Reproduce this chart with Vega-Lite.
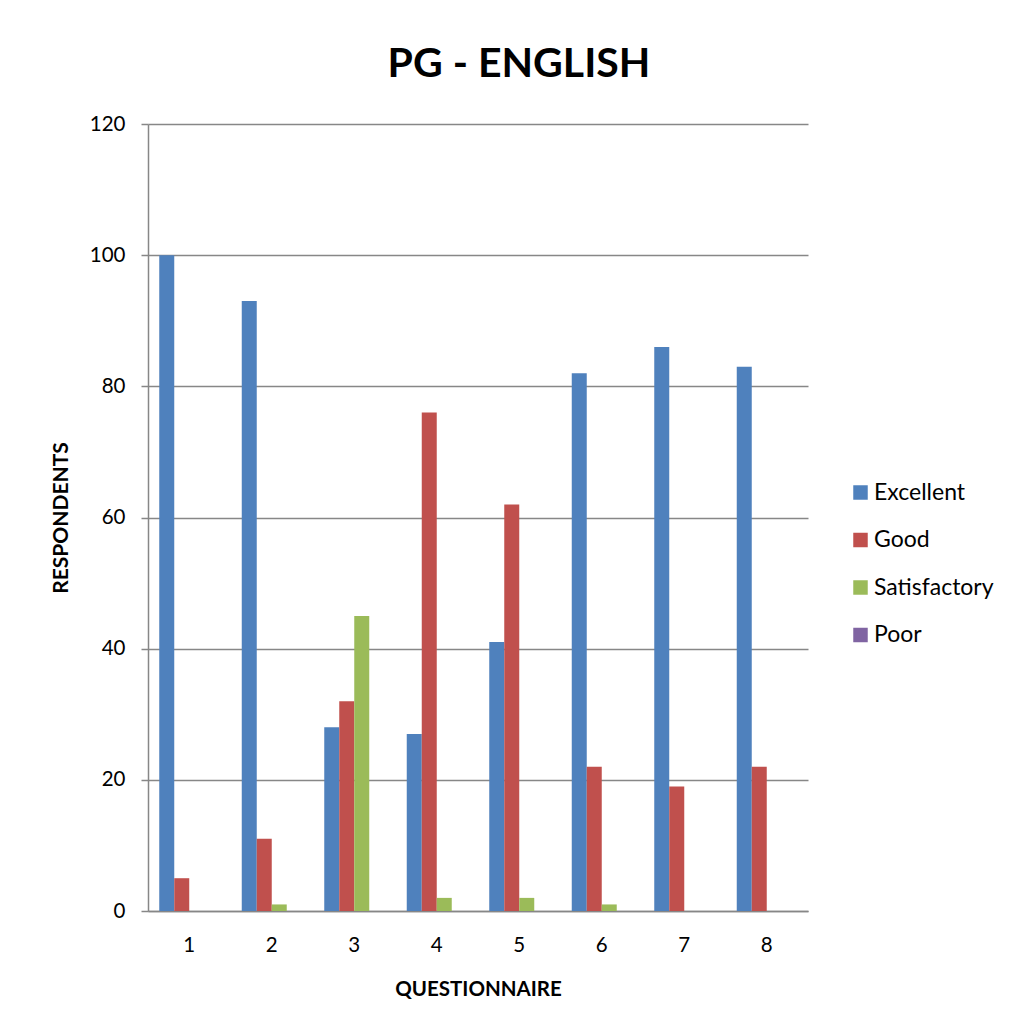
{
  "$schema": "https://vega.github.io/schema/vega-lite/v6.json",
  "width": 660,
  "height": 787,
  "autosize": "none",
  "padding": {"left": 148, "top": 124, "right": 208, "bottom": 116},
  "background": "white",
  "title": {
    "text": "PG - ENGLISH",
    "font": "Lato",
    "fontSize": 41,
    "fontWeight": "bold",
    "color": "black",
    "anchor": "middle",
    "dx": 41,
    "offset": 28
  },
  "data": {
    "values": [
      {"q": "1", "rating": "Excellent", "n": 100},
      {"q": "1", "rating": "Good", "n": 5},
      {"q": "1", "rating": "Satisfactory", "n": 0},
      {"q": "1", "rating": "Poor", "n": 0},
      {"q": "2", "rating": "Excellent", "n": 93},
      {"q": "2", "rating": "Good", "n": 11},
      {"q": "2", "rating": "Satisfactory", "n": 1},
      {"q": "2", "rating": "Poor", "n": 0},
      {"q": "3", "rating": "Excellent", "n": 28},
      {"q": "3", "rating": "Good", "n": 32},
      {"q": "3", "rating": "Satisfactory", "n": 45},
      {"q": "3", "rating": "Poor", "n": 0},
      {"q": "4", "rating": "Excellent", "n": 27},
      {"q": "4", "rating": "Good", "n": 76},
      {"q": "4", "rating": "Satisfactory", "n": 2},
      {"q": "4", "rating": "Poor", "n": 0},
      {"q": "5", "rating": "Excellent", "n": 41},
      {"q": "5", "rating": "Good", "n": 62},
      {"q": "5", "rating": "Satisfactory", "n": 2},
      {"q": "5", "rating": "Poor", "n": 0},
      {"q": "6", "rating": "Excellent", "n": 82},
      {"q": "6", "rating": "Good", "n": 22},
      {"q": "6", "rating": "Satisfactory", "n": 1},
      {"q": "6", "rating": "Poor", "n": 0},
      {"q": "7", "rating": "Excellent", "n": 86},
      {"q": "7", "rating": "Good", "n": 19},
      {"q": "7", "rating": "Satisfactory", "n": 0},
      {"q": "7", "rating": "Poor", "n": 0},
      {"q": "8", "rating": "Excellent", "n": 83},
      {"q": "8", "rating": "Good", "n": 22},
      {"q": "8", "rating": "Satisfactory", "n": 0},
      {"q": "8", "rating": "Poor", "n": 0}
    ]
  },
  "mark": {"type": "bar"},
  "encoding": {
    "x": {
      "field": "q",
      "type": "nominal",
      "scale": {"paddingInner": 0, "paddingOuter": 0},
      "axis": {
        "title": "QUESTIONNAIRE",
        "titleFontSize": 20.5,
        "labelAngle": 0,
        "ticks": false,
        "tickSize": 0,
        "labelPadding": 24,
        "titlePadding": 24
      }
    },
    "xOffset": {
      "field": "rating",
      "type": "nominal",
      "sort": ["Excellent", "Good", "Satisfactory", "Poor"],
      "scale": {"paddingInner": 0, "paddingOuter": 0.75}
    },
    "y": {
      "field": "n",
      "type": "quantitative",
      "scale": {"domain": [0, 120]},
      "axis": {
        "title": "RESPONDENTS",
        "titleFontSize": 21,
        "values": [0, 20, 40, 60, 80, 100, 120],
        "tickSize": 7,
        "labelPadding": 16,
        "titlePadding": 18
      }
    },
    "color": {
      "field": "rating",
      "type": "nominal",
      "sort": ["Excellent", "Good", "Satisfactory", "Poor"],
      "scale": {
        "domain": ["Excellent", "Good", "Satisfactory", "Poor"],
        "range": ["#4F81BD", "#C0504D", "#9BBB59", "#8064A2"]
      },
      "legend": {
        "title": null,
        "orient": "none",
        "legendX": 701,
        "legendY": 357,
        "symbolType": "square",
        "symbolSize": 210,
        "symbolStrokeWidth": 0,
        "labelFontSize": 23,
        "labelFont": "Lato",
        "labelColor": "black",
        "rowPadding": 23.5,
        "labelOffset": 2
      }
    }
  },
  "config": {
    "view": {"stroke": null},
    "axis": {
      "labelFont": "Lato",
      "labelFontSize": 20.5,
      "labelColor": "black",
      "titleFont": "Lato",
      "titleFontWeight": "bold",
      "titleColor": "black",
      "domainColor": "#878787",
      "domainWidth": 1.5,
      "tickColor": "#878787",
      "tickWidth": 1.5,
      "gridColor": "#878787",
      "gridWidth": 1.5
    },
    "axisX": {"grid": false},
    "axisY": {"grid": true}
  }
}
